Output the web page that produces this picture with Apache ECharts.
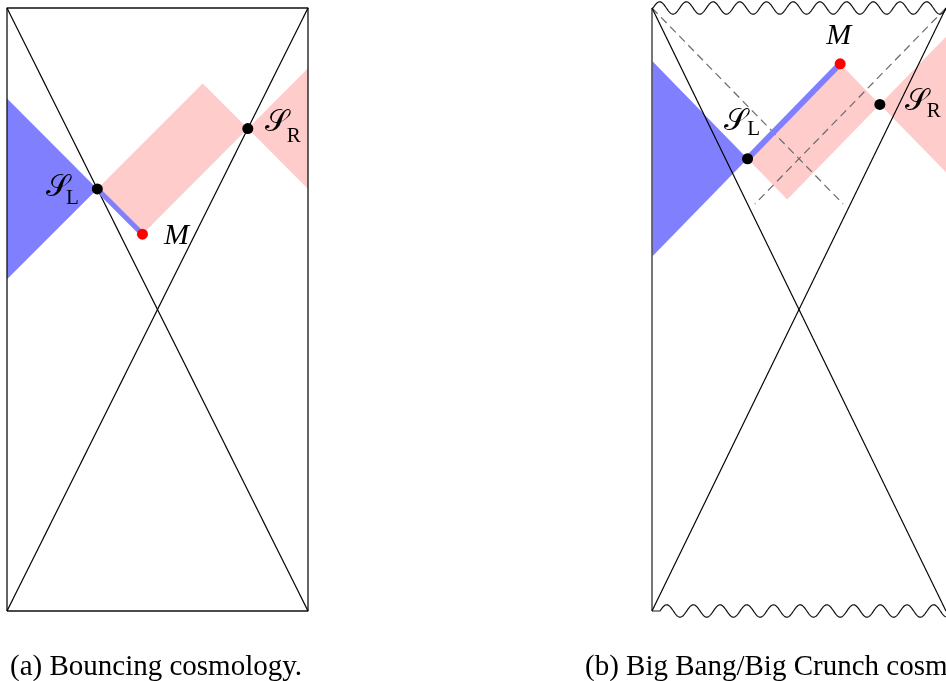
<!DOCTYPE html>
<html><head><meta charset="utf-8">
<script src="https://cdn.jsdelivr.net/npm/echarts@6/dist/echarts.min.js"></script>
<style>html,body{margin:0;padding:0;background:#fff}#c{width:946px;height:681px}</style>
</head><body><div id="c"></div>
<script>
// ---- Panel (a): bouncing cosmology (diagram units: x 0..1, y 0..2) ----
const frameA = [[0,0],[1,0],[1,2],[0,2],[0,0]];
const diagA1 = [[0,2],[1,0]];
const diagA2 = [[0,0],[1,2]];
const blueWedgeA = [[0,1.7],[0.3,1.4],[0,1.1]];
const pinkRectA = [[0.3,1.4],[0.65,1.75],[0.8,1.6],[0.45,1.25]];
const pinkWedgeA = [[0.8,1.6],[1,1.8],[1,1.4]];
const blueSegA = [[0.3,1.4],[0.45,1.25]];
const surfacesA = [[0.3,1.4],[0.8,1.6]];
const pointMA = [[0.45,1.25]];

// ---- Panel (b): Big Bang / Big Crunch cosmology ----
const leftEdgeB = [[0,0],[0,2]];
const singTopB = [[0,2],[1,2]];
const singBottomB = [[0,0],[1,0]];
const diagB1 = [[0,2],[1,0]];
const diagB2 = [[0,0],[1,2]];
const dashB1 = [[0,2],[0.65,1.35]];
const dashB2 = [[1,2],[0.35,1.35]];
const blueWedgeB = [[0,1.825],[0.325,1.5],[0,1.175]];
const pinkRectB = [[0.325,1.5],[0.64,1.815],[0.775,1.68],[0.46,1.365]];
const pinkWedgeB = [[0.775,1.68],[1,1.905],[1,1.455]];
const blueSegB = [[0.325,1.5],[0.64,1.815]];
const surfacesB = [[0.325,1.5],[0.775,1.68]];
const pointMB = [[0.64,1.815]];

const surfaceNames = ['L','R'];
const pointName = 'M';
const captions = ['(a) Bouncing cosmology.', '(b) Big Bang/Big Crunch cosmology.'];

const BLUE = '#8080ff', PINK = '#ffcccc';
const chart = echarts.init(document.getElementById('c'), null, {renderer:'canvas'});

function polygon(g, pts, color, z) {
  return {type:'custom', xAxisIndex:g, yAxisIndex:g, z, silent:true, data:[pts[0]],
    renderItem:(p, api) => ({type:'polygon', shape:{points: pts.map(q => api.coord(q))}, style:{fill:color}})};
}
function line(g, pts, color, width, z, dash) {
  return {type:'line', xAxisIndex:g, yAxisIndex:g, z, silent:true, data:pts, showSymbol:false, symbol:'none',
    clip:false, animation:false, lineStyle:{color, width, opacity:1, type: dash || 'solid'}};
}
function dots(g, pts, color, z) {
  return {type:'scatter', xAxisIndex:g, yAxisIndex:g, z, silent:true, data:pts, symbol:'circle', symbolSize:11,
    itemStyle:{color, opacity:1}, animation:false};
}
// wavy singularity line (decoration), phase/flat start in pixels
function wave(g, pts, startFlat, sign, z) {
  return {type:'custom', xAxisIndex:g, yAxisIndex:g, z, silent:true, data:[pts[0]],
    renderItem:(p, api) => {
      const a = api.coord(pts[0]), b = api.coord(pts[1]);
      const A = 6.2, P = 26.7, out = [];
      for (let x = a[0]; x <= b[0]; x += 0.5) {
        const t = x - a[0] - startFlat;
        out.push([x, a[1] - (t < 0 ? 0 : sign * A * Math.sin(2*Math.PI*t/P))]);
      }
      return {type:'polyline', shape:{points:out}, style:{stroke:'#111', lineWidth:1.2, fill:null}};
    }};
}
const SERIF = '"Liberation Serif", "DejaVu Serif", serif';
// labels: main glyph + subscript, offsets in pixels
function label(g, pt, main, sub, mOff, sOff, italic) {
  return {type:'custom', xAxisIndex:g, yAxisIndex:g, z:10, silent:true, data:[pt],
    renderItem:(p, api) => {
      const c = api.coord([api.value(0), api.value(1)]);
      const kids = [{type:'text', x:c[0]+mOff[0], y:c[1]+mOff[1], style:{text:main, fontSize:30,
        fontFamily: italic ? SERIF : '"DejaVu Serif", "DejaVu Sans", serif', fontStyle: italic ? 'italic':'normal',
        fill:'#000', align:'center', verticalAlign:'middle'}}];
      if (sub) kids.push({type:'text', x:c[0]+sOff[0], y:c[1]+sOff[1], style:{text:sub, fontSize:21,
        fontFamily:SERIF, fill:'#000', align:'center', verticalAlign:'middle'}});
      return {type:'group', children:kids};
    }};
}
const S = '\u{1D4AE}';

const option = {
  backgroundColor:'#fff',
  animation:false,
  grid:[{left:7, top:8, width:301, height:603}, {left:652, top:8, width:301, height:603}],
  xAxis:[{gridIndex:0,type:'value',min:0,max:1,show:false},{gridIndex:1,type:'value',min:0,max:1,show:false}],
  yAxis:[{gridIndex:0,type:'value',min:0,max:2,show:false},{gridIndex:1,type:'value',min:0,max:2,show:false}],
  graphic:[
    {type:'text', left:10, top:653, style:{text:captions[0], fontSize:29, fontFamily:SERIF, fill:'#000'}},
    {type:'text', left:585, top:653, style:{text:captions[1], fontSize:29, fontFamily:SERIF, fill:'#000'}}
  ],
  series:[
    polygon(0, pinkRectA, PINK, 1), polygon(0, pinkWedgeA, PINK, 1), polygon(0, blueWedgeA, BLUE, 2),
    line(0, frameA, '#111', 1.3, 4), line(0, diagA1, '#000', 1.2, 4), line(0, diagA2, '#000', 1.2, 4),
    line(0, blueSegA, BLUE, 5, 5),
    dots(0, surfacesA, '#000', 6), dots(0, pointMA, '#ff0000', 6),
    label(0, surfacesA[0], S, surfaceNames[0], [-40,-1], [-25,10], false),
    label(0, surfacesA[1], S, surfaceNames[1], [29,-5], [46,8], false),
    label(0, pointMA[0], pointName, null, [34,2], null, true),

    polygon(1, pinkRectB, PINK, 1), polygon(1, pinkWedgeB, PINK, 1), polygon(1, blueWedgeB, BLUE, 2),
    line(1, dashB1, '#6a6a6a', 1.2, 3, [8,5]), line(1, dashB2, '#6a6a6a', 1.2, 3, [8,5]),
    line(1, leftEdgeB, '#555', 1.6, 4), line(1, diagB1, '#000', 1.2, 4), line(1, diagB2, '#000', 1.2, 4),
    wave(1, singTopB, 1, 1, 4), wave(1, singBottomB, 8, 1, 4),
    line(1, blueSegB, BLUE, 6, 5),
    dots(1, surfacesB, '#000', 6), dots(1, pointMB, '#ff0000', 6),
    label(1, surfacesB[0], S, surfaceNames[0], [-12,-37], [6,-29], false),
    label(1, surfacesB[1], S, surfaceNames[1], [36.5,-2], [54,7], false),
    label(1, pointMB[0], pointName, null, [-1.5,-28], null, true)
  ]
};
chart.setOption(option);
</script></body></html>
